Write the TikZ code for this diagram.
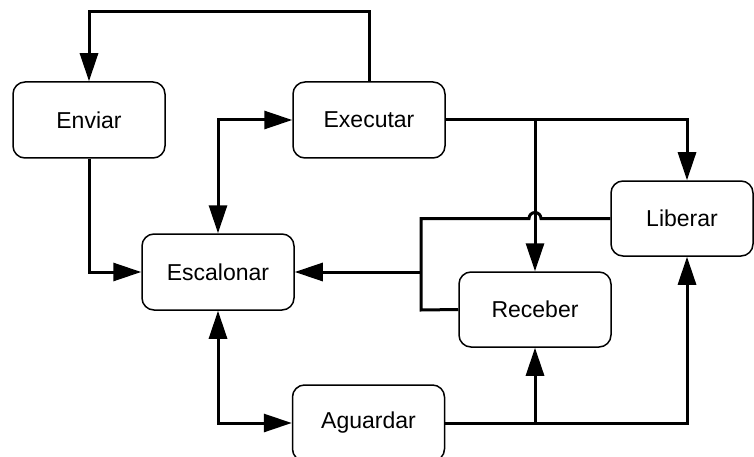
\documentclass[tikz,border=0pt]{standalone}
\usepackage{fontspec}
\setmainfont{Liberation Sans}
\usetikzlibrary{arrows.meta,calc}
\begin{document}
\begin{tikzpicture}[x=1pt,y=-1pt,
  state/.style={draw,line width=1.5pt,rounded corners=12pt,inner sep=0pt,
    minimum width=152pt,minimum height=76pt,font=\fontsize{23}{27}\selectfont},
  link/.style={line width=3pt},
  arr/.style={link,-{Triangle[length=28pt,width=18pt]}},
  both/.style={link,{Triangle[length=28pt,width=18pt]}-{Triangle[length=28pt,width=18pt]}}]
  \fill[white] (0,0) rectangle (754,457);
  \useasboundingbox (0,0) rectangle (754,457);
  \begin{scope}
  \clip (0,0) rectangle (754,457);
  % states
  \node[state] (env) at (89,120) {Enviar};
  \node[state] (exe) at (369,120) {Executar};
  \node[state] (esc) at (218,272) {Escalonar};
  \node[state,minimum height=75pt] (rec) at (535,309.5) {Receber};
  \node[state,minimum width=142pt,minimum height=75pt] (lib) at (682,218.5) {Liberar};
  \node[state] (agu) at (368.5,423) {Aguardar};

  % Executar -> Enviar, over the top
  \coordinate (topR) at (369,12);
  \coordinate (topL) at (89,12);
  \draw[arr] (exe.north) -- (topR) -- (topL) -- (env.north);

  % Enviar -> Escalonar
  \draw[arr] (env.south) |- (esc.west);

  % Escalonar <-> Executar and Escalonar <-> Aguardar
  \draw[both] (esc.north) |- (exe.west);
  \draw[both] (esc.south) |- (agu.west);

  % Executar -> Receber and Liberar
  \coordinate (exeJ) at (535,120);
  \draw[link] (exe.east) -- (exeJ);
  \draw[arr] (exeJ) -| ($(lib.north)+(5,0)$);
  \draw[arr] (exeJ) -- (rec.north);

  % Aguardar -> Receber and Liberar
  \coordinate (aguJ) at (535,423);
  \draw[link] (agu.east) -- (aguJ);
  \draw[arr] (aguJ) -- (rec.south);
  \draw[arr] (aguJ) -| ($(lib.south)+(5,0)$);

  % Liberar and Receber -> Escalonar, hopping over the vertical line
  \coordinate (hopR) at (541,218.5);
  \coordinate (busT) at (421,218.5);
  \coordinate (busM) at (421,272);
  \coordinate (busB) at (421,310);
  \draw[link,line join=miter] (lib.west) -- (hopR) arc[start angle=0,end angle=-180,radius=6]
    -- (busT) -- (busB) -- (rec.west);
  \draw[arr] (busM) -- (esc.east);
  \end{scope}
\end{tikzpicture}
\end{document}
